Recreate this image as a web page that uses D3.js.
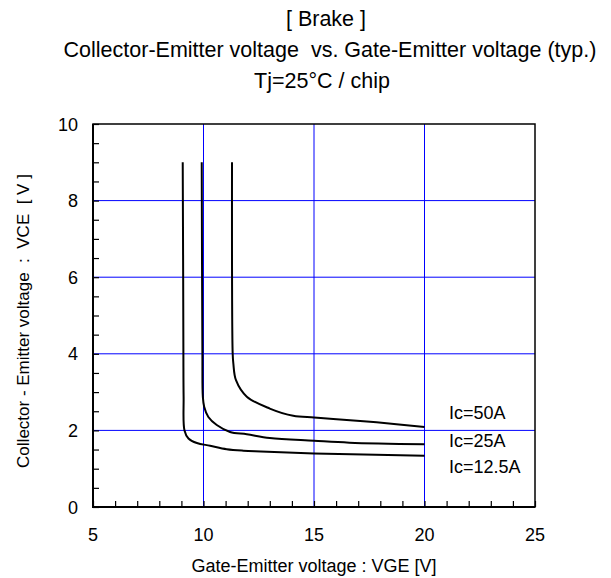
<!DOCTYPE html>
<html><head><meta charset="utf-8">
<script src="https://cdn.jsdelivr.net/npm/d3@7"></script>
<style>body{margin:0;background:#fff;} text{font-family:"Liberation Sans",Arial,sans-serif;fill:#000;white-space:pre;}</style>
</head><body><svg id="c" width="611" height="578"></svg>
<script>
const titleLines = ["[ Brake ]", "Collector-Emitter voltage  vs. Gate-Emitter voltage (typ.)", "Tj=25°C / chip"];
const xTicks = [5, 10, 15, 20, 25];
const yTicks = [0, 2, 4, 6, 8, 10];
const xGrid = [10, 15, 20];
const yGrid = [2, 4, 6, 8];
const seriesNames = ["Ic=50A", "Ic=25A", "Ic=12.5A"];
const vge50 = [11.29, 11.32, 11.35, 11.47, 11.96, 13.0, 14.06, 15, 15.87, 17.83, 20];
const vce50 = [9.0, 4.01, 3.75, 3.31, 2.88, 2.57, 2.38, 2.34, 2.30, 2.21, 2.09];
const vge25 = [9.92, 9.95, 9.97, 10.03, 10.22, 10.60, 11.20, 11.96, 13.0, 15, 16.6, 20];
const vce25 = [9.0, 4.0, 2.88, 2.62, 2.35, 2.14, 1.96, 1.90, 1.80, 1.73, 1.68, 1.64];
const vge12 = [9.06, 9.08, 9.09, 9.10, 9.14, 9.32, 9.70, 10.30, 11.05, 11.80, 12.6, 15, 20];
const vce12 = [9.0, 6.0, 4.0, 2.88, 2.0, 1.79, 1.67, 1.60, 1.51, 1.47, 1.45, 1.40, 1.34];
const labelY = [2.31, 1.56, 0.88];

const svg = d3.select("#c");
const L = 93, R = 535, T = 124, B = 507;
const x = d3.scaleLinear().domain([5, 25]).range([L, R]);
const y = d3.scaleLinear().domain([0, 10]).range([B, T]);

// titles
const tx = [326, 330, 322], ty = [26, 57, 88];
svg.append("g").selectAll("text").data(titleLines).join("text")
  .attr("x", (d, i) => tx[i]).attr("y", (d, i) => ty[i]).attr("text-anchor", "middle")
  .attr("font-size", 21.5).text(d => d);

// grid
svg.append("g").selectAll("line").data(xGrid).join("line")
  .attr("x1", d => x(d)).attr("x2", d => x(d)).attr("y1", T).attr("y2", B)
  .attr("stroke", "#0000ff").attr("stroke-width", 1);
svg.append("g").selectAll("line").data(yGrid).join("line")
  .attr("x1", L).attr("x2", R).attr("y1", d => y(d)).attr("y2", d => y(d))
  .attr("stroke", "#0000ff").attr("stroke-width", 1);

// minor ticks (inside)
const gx = svg.append("g").attr("transform", `translate(0,${B})`)
  .call(d3.axisTop(x).ticks(20).tickSize(6).tickFormat(""));
gx.select(".domain").remove();
const gy = svg.append("g").attr("transform", `translate(${L},0)`)
  .call(d3.axisRight(y).ticks(20).tickSize(6).tickFormat(""));
gy.select(".domain").remove();
svg.selectAll(".tick line").attr("stroke", "#000").attr("stroke-width", 1.2);

// frame
svg.append("rect").attr("x", L).attr("y", T).attr("width", R - L).attr("height", B - T)
  .attr("fill", "none").attr("stroke", "#000").attr("stroke-width", 1.5);
svg.append("path").attr("d", `M${L},${T}V${B}H${R}`).attr("fill", "none").attr("stroke", "#000").attr("stroke-width", 2);

// tick labels
svg.append("g").selectAll("text").data(xTicks).join("text")
  .attr("x", d => x(d)).attr("y", B + 34).attr("text-anchor", "middle").attr("font-size", 18).text(d => d);
svg.append("g").selectAll("text").data(yTicks).join("text")
  .attr("x", L - 15).attr("y", d => y(d) + 6.5).attr("text-anchor", "end").attr("font-size", 18).text(d => d);

// axis titles
svg.append("text").attr("x", 314).attr("y", 572).attr("text-anchor", "middle").attr("font-size", 18).text("Gate-Emitter voltage : VGE [V]");
svg.append("text").attr("transform", `translate(29,321) rotate(-90)`).attr("text-anchor", "middle").attr("font-size", 17)
  .text("Collector - Emitter voltage  :  VCE  [ V ]");

// curves
const line = d3.line().x(d => x(d[0])).y(d => y(d[1])).curve(d3.curveCatmullRom.alpha(0.5));
const series = [d3.zip(vge50, vce50), d3.zip(vge25, vce25), d3.zip(vge12, vce12)];
svg.append("g").selectAll("path").data(series).join("path")
  .attr("d", line).attr("fill", "none").attr("stroke", "#000").attr("stroke-width", 2);

// labels
svg.append("g").selectAll("text").data(seriesNames).join("text")
  .attr("x", 449).attr("y", (d, i) => y(labelY[i])).attr("font-size", 18).text(d => d);
</script></body></html>
